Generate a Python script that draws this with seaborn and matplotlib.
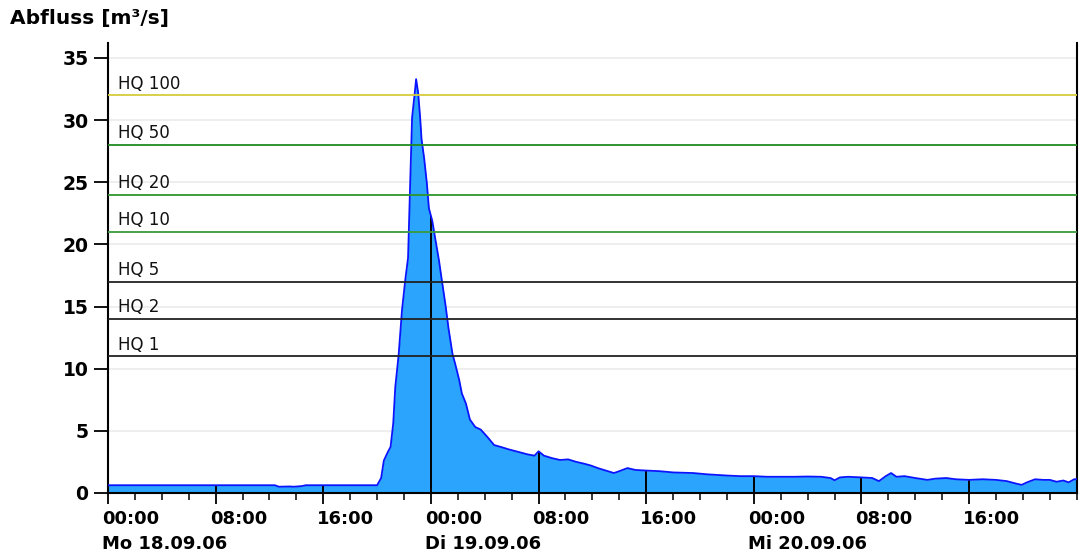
import numpy as np
import pandas as pd
import seaborn as sns
import matplotlib.pyplot as plt
import matplotlib.transforms as mtransforms
from matplotlib.ticker import MultipleLocator, FixedLocator

# hours since Mo 18.09.06 00:00 and discharge in m3/s
hours = [0, 12.4, 12.7, 13.5, 13.8, 14.4, 14.7, 20.0, 20.3, 20.5, 20.8, 21.0,
         21.2, 21.35, 21.6, 21.85, 22.1, 22.3, 22.45, 22.6, 22.8, 22.9, 23.05,
         23.2, 23.3, 23.5, 23.7, 23.85, 24.1, 24.3, 24.6, 24.8, 25.1, 25.3,
         25.6, 25.8, 26.1, 26.3, 26.6, 26.9, 27.3, 27.7, 28.2, 28.7, 29.2,
         29.8, 30.5, 31.2, 31.7, 32.0, 32.4, 33.0, 33.6, 34.2, 34.8, 35.4,
         35.9, 36.4, 37.0, 37.6, 38.0, 38.6, 39.2, 40.0, 41.0, 42.0, 43.5,
         44.5, 46.0, 47.0, 48.0, 49.0, 50.0, 51.0, 52.0, 53.0, 53.7, 54.0,
         54.4, 55.0, 56.0, 56.8, 57.3, 57.8, 58.2, 58.6, 59.2, 60.0, 60.9,
         61.5, 62.3, 63.0, 64.0, 65.0, 66.0, 66.8, 67.5, 67.9, 68.3, 68.9,
         69.5, 70.0, 70.5, 71.0, 71.4, 71.8, 72.0]
abfluss = [0.62, 0.62, 0.5, 0.52, 0.5, 0.55, 0.62, 0.62, 1.2, 2.6, 3.3, 3.7,
           5.6, 8.5, 11.1, 14.7, 17.2, 18.9, 24.6, 30.2, 32.2, 33.3, 32.2,
           30.2, 28.5, 26.9, 24.9, 22.9, 21.9, 20.6, 18.7, 17.2, 15.0, 13.3,
           11.2, 10.4, 9.1, 8.0, 7.2, 5.9, 5.3, 5.1, 4.5, 3.85, 3.7,
           3.5, 3.3, 3.1, 3.0, 3.35, 3.0, 2.8, 2.65, 2.7, 2.5, 2.35,
           2.2, 2.0, 1.8, 1.6, 1.75, 2.0, 1.85, 1.8, 1.75, 1.65, 1.6,
           1.5, 1.4, 1.35, 1.35, 1.3, 1.3, 1.3, 1.32, 1.3, 1.2, 1.02,
           1.25, 1.3, 1.25, 1.2, 0.95, 1.35, 1.6, 1.3, 1.35, 1.2, 1.05,
           1.15, 1.2, 1.1, 1.05, 1.1, 1.05, 0.95, 0.75, 0.65, 0.85, 1.1,
           1.05, 1.05, 0.9, 1.0, 0.85, 1.1, 1.1]

hq_labels = ["HQ 100", "HQ 50", "HQ 20", "HQ 10", "HQ 5", "HQ 2", "HQ 1"]
hq_values = [32, 28, 24, 21, 17, 14, 11]
hq_colors = ["#d6cc3c", "#1f8a1f", "#2e952e", "#3a9a3a", "#222222", "#222222", "#222222"]

tick_hours = [0, 8, 16, 24, 32, 40, 48, 56, 64]
tick_texts = ["00:00", "08:00", "16:00"] * 3
day_hours = [0, 24, 48]
day_texts = ["Mo 18.09.06", "Di 19.09.06", "Mi 20.09.06"]

df = pd.DataFrame({"stunde": hours, "abfluss": abfluss})

sns.set_style("white")
plt.rcParams["font.family"] = ["DejaVu Sans"]
plt.rcParams["text.color"] = "black"
plt.rcParams["xtick.color"] = "black"
plt.rcParams["ytick.color"] = "black"

fig = plt.figure(figsize=(10.8, 5.52), dpi=100)
ax = fig.add_axes([0.1, 0.107, 0.897, 0.815])

# light grid
for v in range(5, 40, 5):
    ax.axhline(v, color="#ebebeb", lw=1.2, zorder=0)

ax.fill_between(df["stunde"], df["abfluss"], color="#2aa4fc", lw=0, zorder=1)
sns.lineplot(data=df, x="stunde", y="abfluss", color="#0a14ff", lw=1.3, ax=ax, zorder=3)

# black verticals inside the hydrograph at major ticks
for h in tick_hours[1:]:
    ax.vlines(h, 0, np.interp(h, hours, abfluss), color="black", lw=1.4, zorder=2)

# threshold lines
for lab, val, col in zip(hq_labels, hq_values, hq_colors):
    ax.axhline(val, color=col, lw=1.3, zorder=4)
    ax.text(0.75, val + 0.2, lab, fontsize=12, va="bottom", ha="left", color="#111111", zorder=5)

ax.set_xlim(0, 72)
ax.set_ylim(0, 36.2)
ax.xaxis.set_major_locator(FixedLocator(tick_hours))
ax.xaxis.set_minor_locator(MultipleLocator(2))
ax.set_xticklabels(tick_texts)
ax.yaxis.set_major_locator(MultipleLocator(5))
ax.set_xlabel("")
ax.set_ylabel("")

ax.tick_params(axis="x", which="major", direction="out", length=8, width=1.3,
               labelsize=13, pad=4, bottom=True)
ax.tick_params(axis="x", which="minor", direction="out", length=5, width=1.1,
               bottom=True)
ax.tick_params(axis="y", which="major", direction="out", length=10, width=1.3,
               labelsize=13.5, pad=4, left=True)

offset = mtransforms.ScaledTranslation(-6 / 100, 0, fig.dpi_scale_trans)
for lbl in ax.get_xticklabels():
    lbl.set_ha("left")
    lbl.set_fontweight("bold")
    lbl.set_transform(lbl.get_transform() + offset)
for lbl in ax.get_yticklabels():
    lbl.set_fontweight("bold")

# date row under the time labels
day_trans = ax.get_xaxis_transform() + offset
for h, t in zip(day_hours, day_texts):
    ax.text(h, -0.113, t, transform=day_trans, fontsize=13, fontweight="bold",
            ha="left", va="center")

for side in ["left", "bottom", "right"]:
    ax.spines[side].set_color("black")
    ax.spines[side].set_linewidth(1.5)
ax.spines["top"].set_visible(False)

fig.text(0.009, 0.967, "Abfluss [m³/s]", fontsize=14.5, fontweight="bold", va="center", ha="left")

fig.savefig("out.png", dpi=100)
